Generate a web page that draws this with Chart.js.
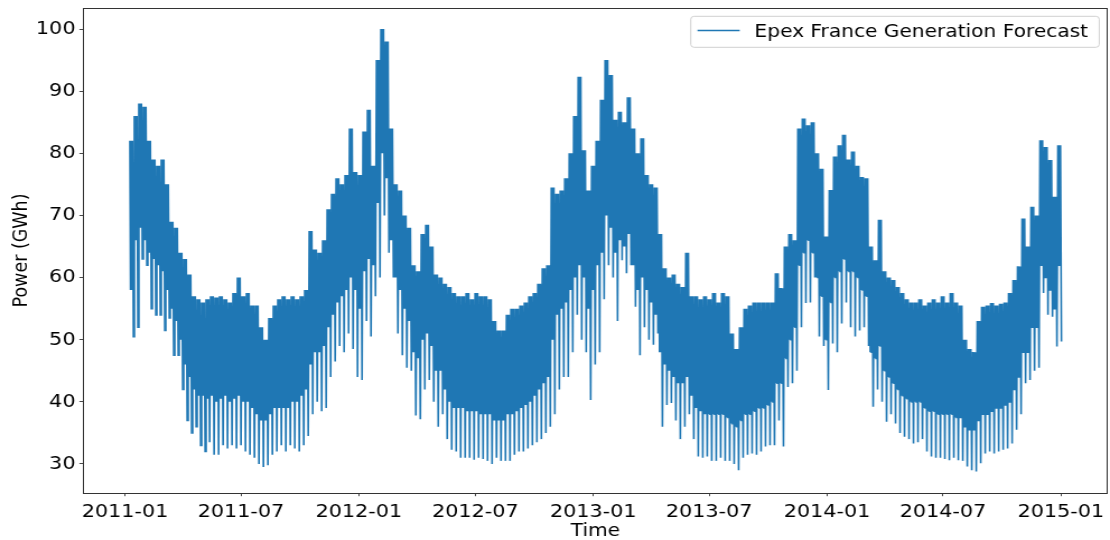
<!DOCTYPE html>
<html>
<head>
<meta charset="utf-8">
<script src="https://cdn.jsdelivr.net/npm/chart.js@4.4.1/dist/chart.umd.min.js"></script>
<style>
html,body{margin:0;padding:0;background:#fff;overflow:hidden}
#c{display:block}
</style>
</head>
<body>
<canvas id="c" width="991" height="540" style="width:1110px;height:540px"></canvas>
<script>
// ---------------- data ----------------
const seriesName = 'Epex France Generation Forecast';
const xTitle = 'Time';
const yTitle = 'Power (GWh)';
// first week of data begins this many days after 2011-01-01
const firstWeekDay = 7;
// weekly maximum (GWh)
const weekHigh = [
 82, 86, 88, 87.5, 82, 79, 78, 79, 75, 69,
 68, 64, 63, 60.5, 57, 56.5, 56, 56.5, 57, 56.8,
 57, 56.5, 56, 57.5, 60, 57, 57.5, 55.5, 55.5, 52,
 50, 53.5, 55.5, 56.5, 57, 56.5, 57, 56.5, 57, 58,
 67.5, 64.5, 64, 66, 71, 73.5, 76, 75, 76.5, 84,
 77, 76.5, 83.5, 87, 78, 95, 100, 98, 84, 75,
 74, 70, 68, 62, 61, 67, 68.5, 65, 60.5, 60,
 59, 58.5, 57.5, 57, 57, 57.5, 56.5, 57.5, 57, 57,
 56.5, 53, 51.5, 51.5, 54, 55, 55, 55.5, 56, 57,
 57.5, 59, 61.5, 62, 74.5, 73.5, 74, 76, 80, 86,
 92.3, 80.5, 74, 78, 82, 88.6, 95, 92.6, 85.4, 86.7,
 85, 89, 84, 80, 82.4, 76.5, 75, 74.5, 67, 61.5,
 60, 60.5, 59, 58.5, 64, 57, 57, 56.5, 57, 56.5,
 57.5, 56, 57.5, 57, 51, 48.5, 52, 55, 55.5, 56,
 56, 56, 56, 56, 60.7, 58.3, 65, 67, 66, 84,
 85.6, 84.5, 85, 80, 77.5, 66.6, 74.1, 79.5, 81.3, 83,
 79, 80.3, 78, 76.2, 76, 65, 62.8, 69.3, 61, 60,
 59.6, 58.5, 57.5, 56.5, 56, 56, 56.5, 55.5, 56, 56.5,
 56, 57, 56, 57.5, 56, 55.5, 50, 48.5, 48, 53,
 55.3, 55.5, 55.9, 55.5, 55.8, 56, 57.5, 59.6, 61.8, 69.5,
 65, 71.4, 70, 82.1, 81, 78.9, 73, 81.3
];
// weekday night-time lows (GWh)
const weekBase = [
 58, 66, 68, 66, 64, 63, 62, 61, 58, 55,
 53, 50, 46, 44, 42, 41, 41, 40.5, 41, 40,
 40.5, 41, 40, 40.5, 41, 40, 40, 39, 38, 37,
 37, 38, 39, 39, 39, 39, 40, 40, 41, 42,
 46, 48, 48, 49, 52, 54, 56, 57, 58, 60,
 58, 55, 61, 63, 62, 72, 80, 76, 66, 60,
 58, 55, 53, 48, 47, 50, 51, 49, 45, 45,
 42, 40, 39, 39, 39, 38.5, 38.5, 38.5, 38, 38,
 38, 37, 37, 37, 38, 38, 38.5, 39, 39.5, 40,
 41, 42, 43, 44, 50, 54, 55, 56, 58, 60,
 62, 60, 55, 58, 62, 64, 70, 68, 64, 66,
 65, 67, 62, 58, 60, 58, 56, 54, 48, 46,
 45, 44, 43, 43, 44, 41, 39, 38.5, 38, 38,
 38, 38, 38, 37.5, 36.5, 36, 37, 38, 38, 38.5,
 39, 39, 39.5, 40, 43, 43, 47, 50, 52, 62,
 64, 66, 64, 60, 57, 50, 56, 60, 61, 63,
 61, 61, 60, 58, 57, 48, 47, 49, 45, 44,
 43, 42, 41, 40.5, 40, 40, 40, 39, 38.5, 38.5,
 38, 38, 38, 38, 37.5, 37.5, 36, 35.5, 35.5, 37,
 38, 38, 38.5, 39, 39, 39.5, 40, 42, 44, 48,
 48, 52, 52, 62, 60, 58, 55, 62
];
// weekly minimum, weekend dips (GWh)
const weekLow = [
 50.5, 52, 63, 62, 55, 54, 54, 51.5, 53.5, 47.5,
 47.5, 42, 37, 35, 36, 33, 32, 33.5, 31.5, 31.5,
 33, 32.5, 33, 32.5, 33, 32, 31.5, 31, 30, 29.5,
 29.8, 31.5, 32, 33, 32, 33, 32.5, 32, 33, 34.5,
 38, 40, 38.5, 39, 44, 46.5, 49, 48, 51, 48.5,
 44, 43.5, 53, 50.5, 57, 60, 70, 64, 60, 51,
 47.5, 45.5, 45, 37.8, 37.2, 42, 43.5, 40, 36, 38,
 34, 32.3, 32, 31, 31, 31, 30.7, 31, 30.8, 30.5,
 30, 31, 30.5, 30.5, 30.5, 31.5, 32, 32, 32.5, 33,
 33.5, 34, 35, 36, 38, 42, 44, 44, 48, 54,
 50, 48, 40.3, 46, 48, 56.5, 62, 60, 53, 62.8,
 60.7, 62, 55.3, 47.5, 52, 50, 49.2, 51, 36, 39.5,
 39.8, 37, 34, 36, 38, 34, 31.2, 31, 31.2, 30.5,
 30.5, 31, 30.5, 30.5, 30, 29, 31, 31.5, 31.7, 31.5,
 32, 32.8, 33, 33, 37, 32.8, 42.4, 43, 45, 52,
 55.9, 56, 60, 50.5, 49, 41.9, 49.4, 48, 52.6, 56,
 52, 50.5, 51.5, 52, 49, 39.2, 42, 40, 36.8, 38,
 36.5, 35, 34.4, 34, 33.3, 33.5, 34, 32, 31.2, 31,
 31, 30.8, 30.6, 31, 30.6, 30.5, 29.6, 29, 28.8, 30.1,
 31.7, 32, 31.7, 32, 32.3, 32.5, 33.3, 35.5, 38, 43,
 43.5, 45, 45.5, 57.5, 54, 53.7, 48.9, 49.7
];
// x ticks: days after 2011-01-01 and their labels
const tickDays = [0, 181, 365, 547, 731, 912, 1096, 1277, 1461];
const tickLabels = ['2011-01', '2011-07', '2012-01', '2012-07', '2013-01', '2013-07', '2014-01', '2014-07', '2015-01'];
const yTickValues = [30, 40, 50, 60, 70, 80, 90, 100];

// ---------------- build the line (weekday peaks / nightly lows / weekend dip) ----------------
const points = [];
for (let w = 0; w < weekHigh.length; w++) {
  const d = firstWeekDay + 7 * w;
  points.push({x: d + 0.5, y: weekHigh[w]});
  points.push({x: d + 1.5, y: weekBase[w]});
  points.push({x: d + 2.5, y: weekHigh[w]});
  points.push({x: d + 3.5, y: weekBase[w]});
  points.push({x: d + 4.5, y: weekHigh[w]});
  points.push({x: d + 6.0, y: weekLow[w]});
}

const FONT = 'DejaVu Sans';
const LINE_COLOR = '#1f77b4';

const framePlugin = {
  id: 'frame',
  afterDatasetsDraw(chart) {
    const {ctx, chartArea: a} = chart;
    ctx.save();
    ctx.strokeStyle = '#333';
    ctx.lineWidth = 1;
    ctx.strokeRect(Math.round(a.left) + 0.5, Math.round(a.top) + 0.5,
                   Math.round(a.right - a.left) - 1, Math.round(a.bottom - a.top));
    ctx.restore();
  }
};

const legendPlugin = {
  id: 'boxLegend',
  afterDraw(chart) {
    const {ctx, chartArea: a} = chart;
    ctx.save();
    ctx.font = '18px "' + FONT + '"';
    const tw = ctx.measureText(seriesName).width;
    const boxRight = a.right - 7.8;
    const boxTop = a.top + 8.3;
    const boxH = 31;
    const textX = boxRight - 10 - tw;
    const lineEnd = textX - 13.2;
    const lineStart = lineEnd - 37.7;
    const boxLeft = lineStart - 6;
    const r = 3;
    ctx.beginPath();
    ctx.moveTo(boxLeft + r, boxTop);
    ctx.lineTo(boxRight - r, boxTop);
    ctx.quadraticCurveTo(boxRight, boxTop, boxRight, boxTop + r);
    ctx.lineTo(boxRight, boxTop + boxH - r);
    ctx.quadraticCurveTo(boxRight, boxTop + boxH, boxRight - r, boxTop + boxH);
    ctx.lineTo(boxLeft + r, boxTop + boxH);
    ctx.quadraticCurveTo(boxLeft, boxTop + boxH, boxLeft, boxTop + boxH - r);
    ctx.lineTo(boxLeft, boxTop + r);
    ctx.quadraticCurveTo(boxLeft, boxTop, boxLeft + r, boxTop);
    ctx.closePath();
    ctx.fillStyle = 'rgba(255,255,255,0.85)';
    ctx.fill();
    ctx.strokeStyle = '#d0d0d0';
    ctx.lineWidth = 1;
    ctx.stroke();
    ctx.beginPath();
    ctx.moveTo(lineStart, boxTop + 14.2);
    ctx.lineTo(lineEnd, boxTop + 14.2);
    ctx.strokeStyle = LINE_COLOR;
    ctx.lineWidth = 1.5;
    ctx.stroke();
    ctx.fillStyle = '#000';
    ctx.textBaseline = 'alphabetic';
    ctx.textAlign = 'left';
    ctx.fillText(seriesName, textX, boxTop + 21);
    ctx.restore();
  }
};

new Chart(document.getElementById('c'), {
  type: 'line',
  data: {
    datasets: [{
      label: seriesName,
      data: points,
      borderColor: LINE_COLOR,
      backgroundColor: LINE_COLOR,
      borderWidth: 1.6,
      pointRadius: 0,
      tension: 0,
      fill: false
    }]
  },
  options: {
    responsive: false,
    animation: false,
    devicePixelRatio: 1,
    parsing: false,
    layout: {padding: {left: 0, right: 1.8, top: 8, bottom: 0}},
    plugins: {legend: {display: false}, tooltip: {enabled: false}},
    scales: {
      x: {
        type: 'linear',
        min: -65.7,
        max: 1534.7,
        afterBuildTicks: s => { s.ticks = tickDays.map(v => ({value: v})); },
        afterFit: s => { s.height = 47; s.paddingLeft = 0; s.paddingRight = 0; },
        ticks: {
          autoSkip: false, maxRotation: 0, minRotation: 0, padding: 4.5,
          color: '#000', font: {family: FONT, size: 18.5},
          callback: (v, i) => tickLabels[i]
        },
        grid: {display: true, drawOnChartArea: false, drawTicks: true, tickLength: 3.2, color: '#333', lineWidth: 0.9},
        border: {display: false},
        title: {display: true, text: xTitle, color: '#000', font: {family: FONT, size: 18}, padding: {top: 0, bottom: -1.8}}
      },
      y: {
        type: 'linear',
        min: 25.33,
        max: 103.38,
        afterBuildTicks: s => { s.ticks = yTickValues.map(v => ({value: v})); },
        afterFit: s => { s.width = 74.1; s.paddingTop = 0; s.paddingBottom = 0; },
        ticks: {color: '#000', font: {family: FONT, size: 18.5}, padding: 3.5},
        grid: {display: true, drawOnChartArea: false, drawTicks: true, tickLength: 3.2, color: '#333', lineWidth: 0.9},
        border: {display: false},
        title: {display: true, text: yTitle, color: '#000', font: {family: FONT, size: 17.5}, padding: {top: 8.8, bottom: 0}}
      }
    }
  },
  plugins: [framePlugin, legendPlugin]
});
</script>
</body>
</html>
